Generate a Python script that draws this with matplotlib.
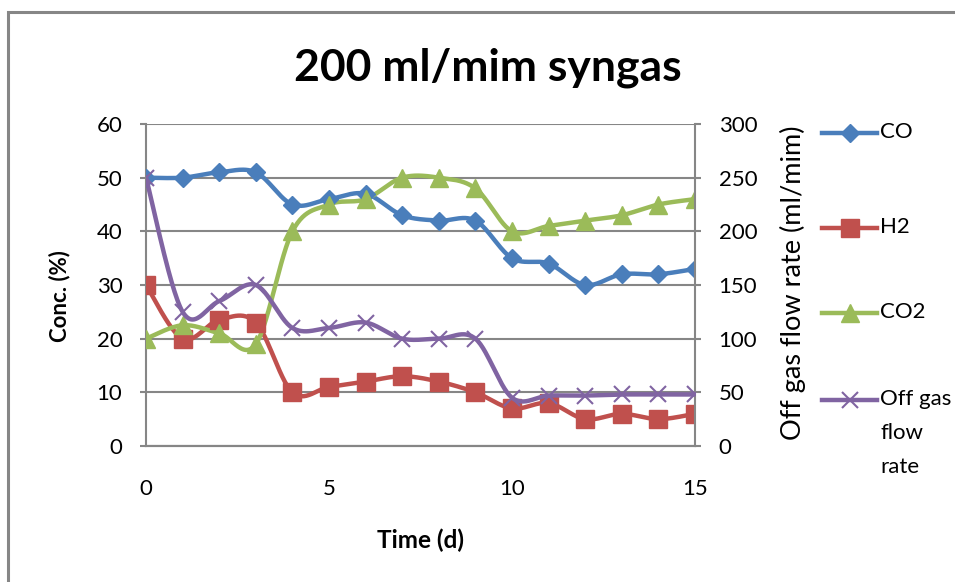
import numpy as np
import matplotlib
matplotlib.use("Agg")
import matplotlib.pyplot as plt
from matplotlib.lines import Line2D
from matplotlib.patches import Rectangle

plt.rcParams['font.family'] = ['Lato', 'DejaVu Sans']

# ---- data ----
days = [0, 1, 2, 3, 4, 5, 6, 7, 8, 9, 10, 11, 12, 13, 14, 15]
co = [50, 50, 51, 51, 45, 46, 47, 43, 42, 42, 35, 34, 30, 32, 32, 33]
h2 = [30, 20, 23.5, 23, 10, 11, 12, 13, 12, 10, 7, 8, 5, 6, 5, 6]
co2 = [20, 22.5, 21, 19, 40, 45, 46, 50, 50, 48, 40, 41, 42, 43, 45, 46]
offgas = [250, 125, 135, 150, 110, 110, 115, 100, 100, 100, 45, 47, 47, 48, 48, 48]

left_ticks = [0, 10, 20, 30, 40, 50, 60]
right_ticks = [0, 50, 100, 150, 200, 250, 300]
x_ticks = [0, 5, 10, 15]

C_CO = '#4A7EBB'
C_H2 = '#C0504D'
C_CO2 = '#9BBB59'
C_OFF = '#8064A2'
GRID = '#868686'


def smooth(x, y, n=30):
    """Bezier smoothing through every point (spreadsheet-style smoothed line)."""
    x = np.asarray(x, float)
    y = np.asarray(y, float)
    P = np.column_stack([x, y])
    Pe = np.vstack([P[0], P, P[-1]])
    out = []
    for i in range(len(P) - 1):
        p0, p1, p2, p3 = Pe[i], Pe[i + 1], Pe[i + 2], Pe[i + 3]
        c1 = p1 + (p2 - p0) / 6.0
        c2 = p2 - (p3 - p1) / 6.0
        t = np.linspace(0, 1, n)[:, None]
        seg = ((1 - t) ** 3) * p1 + 3 * ((1 - t) ** 2) * t * c1 + 3 * (1 - t) * t ** 2 * c2 + t ** 3 * p2
        out.append(seg if i == 0 else seg[1:])
    s = np.vstack(out)
    return s[:, 0], s[:, 1]


fig = plt.figure(figsize=(9.55, 5.82), dpi=100)
W, H = 955, 582
ax = fig.add_axes([146 / W, 1 - 446 / H, (695 - 146) / W, (446 - 124) / H])
ax2 = ax.twinx()

# chart border
fig.patches.append(Rectangle((8 / W, -0.05), 1.1, 1 - 12 / H + 0.05, transform=fig.transFigure,
                             fill=False, edgecolor=GRID, linewidth=2.2, zorder=0))

ax.set_xlim(0, 15)
ax.set_ylim(0, 60)
ax2.set_ylim(0, 300)

ax.set_yticks(left_ticks)
ax2.set_yticks(right_ticks)
ax.set_xticks(x_ticks)
ax.yaxis.grid(True, color=GRID, linewidth=1.5)
ax.set_axisbelow(True)

for a in (ax, ax2):
    a.spines['top'].set_visible(False)
    for sp in a.spines.values():
        sp.set_color(GRID)
        sp.set_linewidth(1.5)
ax2.spines['left'].set_visible(False)
ax.spines['right'].set_visible(False)

ax.tick_params(axis='y', length=4, width=1.5, color=GRID, labelsize=16, pad=13)
ax2.tick_params(axis='y', length=4, width=1.5, color=GRID, labelsize=16, pad=13)
ax.tick_params(axis='x', length=0, labelsize=16, pad=24)

lw = 3.2
for y, col, mk, ms in [(co, C_CO, 'D', 9.5), (h2, C_H2, 's', 13), (co2, C_CO2, '^', 13.5)]:
    sx, sy = smooth(days, y)
    ax.plot(sx, sy, color=col, linewidth=lw, solid_capstyle='round', zorder=3)
    ax.plot(days, y, linestyle='none', marker=mk, markersize=ms, color=col,
            markeredgecolor=col, zorder=4)

sx, sy = smooth(days, offgas)
ax2.plot(sx, sy, color=C_OFF, linewidth=lw, zorder=3)
ax2.plot(days, offgas, linestyle='none', marker='x', markersize=12, markeredgewidth=1.5,
         color=C_OFF, zorder=4)

# axis titles
fig.text(60 / W, 1 - 296 / H, 'Conc. (%)', fontsize=16, fontweight='bold',
         rotation=90, ha='center', va='center')
fig.text(420 / W, 1 - 540 / H, 'Time (d)', fontsize=17.5, fontweight='bold',
         ha='center', va='center')
fig.text(793 / W, 1 - 283 / H, 'Off gas flow rate (ml/mim)', fontsize=19.5,
         rotation=90, ha='center', va='center')

fig.text(488 / W, 1 - 68 / H, '200 ml/mim syngas', fontsize=32, fontweight='bold',
         ha='center', va='center')

# legend
entries = [('CO', C_CO, 'D', 9.5, 133), ('H2', C_H2, 's', 13, 228),
           ('CO2', C_CO2, '^', 13.5, 313), ('Off gas\nflow\nrate', C_OFF, 'x', 12, 400)]
for label, col, mk, ms, yy in entries:
    yf = 1 - yy / H
    fig.lines.append(Line2D([822 / W, 877 / W], [yf, yf], transform=fig.transFigure,
                            color=col, linewidth=lw))
    fig.lines.append(Line2D([850 / W], [yf], transform=fig.transFigure, marker=mk,
                            markersize=ms, color=col, markeredgewidth=1.5 if mk == 'x' else 1))
    fig.text(880 / W, yf + 11 / H, label, fontsize=16, ha='left', va='top', linespacing=1.88)

fig.savefig('out.png', dpi=100)
